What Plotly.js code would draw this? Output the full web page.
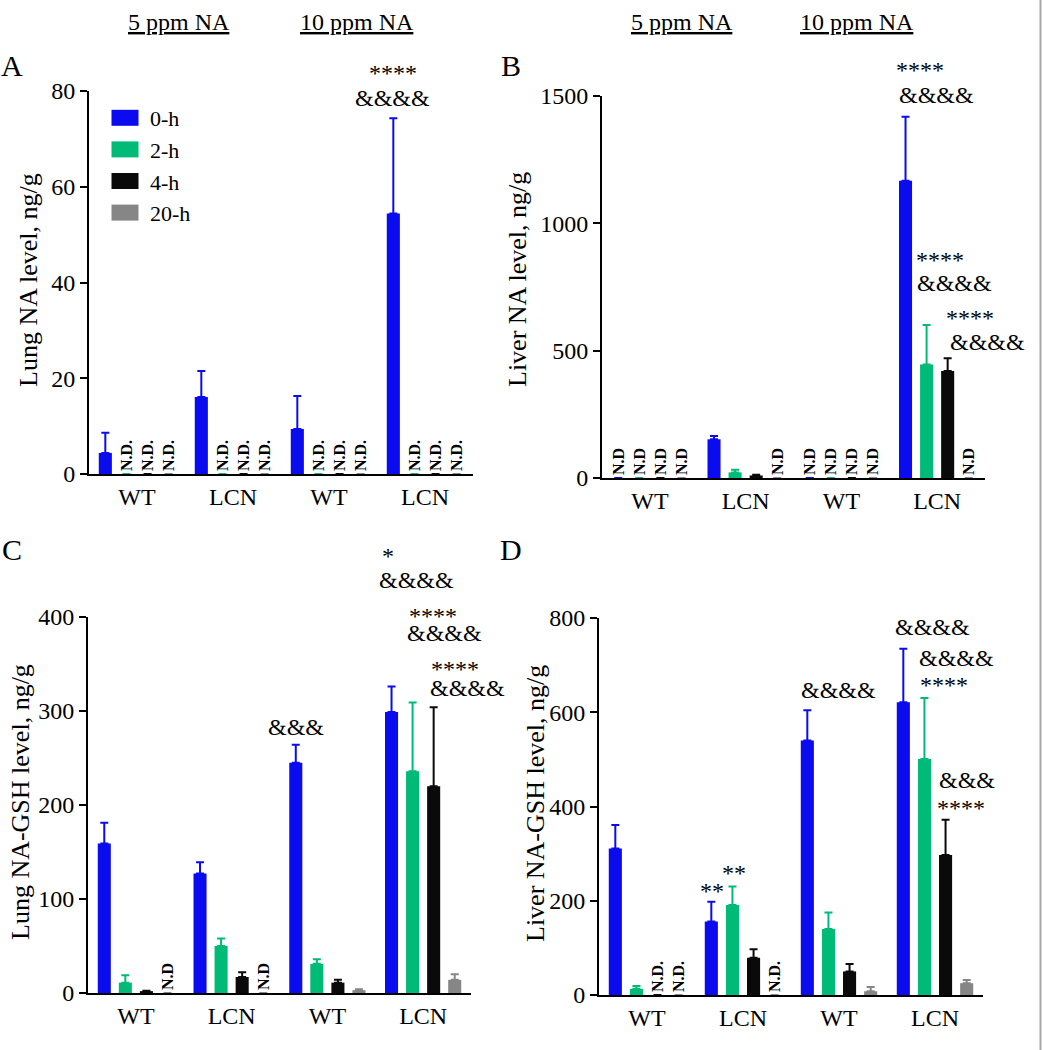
<!DOCTYPE html>
<html><head><meta charset="utf-8">
<script src="https://cdn.plot.ly/plotly-3.0.1.min.js"></script>
<style>body{margin:0;background:#fff}#chart{width:1042px;height:1050px}</style>
</head><body><div id="chart"></div>
<script>
// ---------- data ----------
const groupPos = [0, 1, 2, 3];
const groupLabels = ['WT', 'LCN', 'WT', 'LCN'];
const seriesNames = ['0-h', '2-h', '4-h', '20-h'];
const seriesColors = ['#0b0bf0', '#00bb77', '#0a0a0a', '#868686'];

// null = N.D. (not detected)
// Panel A: Lung NA level, ng/g
const lungNA_0h = [4.4, 16.1, 9.4, 54.4];
const lungNA_0h_err = [4.2, 5.4, 6.9, 19.9];
const lungNA_2h = [null, null, null, null];
const lungNA_2h_err = [null, null, null, null];
const lungNA_4h = [null, null, null, null];
const lungNA_4h_err = [null, null, null, null];
const lungNA_20h = [null, null, null, null];
const lungNA_20h_err = [null, null, null, null];

// Panel B: Liver NA level, ng/g
const liverNA_0h = [null, 152, null, 1167];
const liverNA_0h_err = [null, 13, null, 252];
const liverNA_2h = [null, 22, null, 446];
const liverNA_2h_err = [null, 10, null, 155];
const liverNA_4h = [null, 10, null, 420];
const liverNA_4h_err = [null, 3, null, 50];
const liverNA_20h = [null, null, null, null];
const liverNA_20h_err = [null, null, null, null];

// Panel C: Lung NA-GSH level, ng/g
const lungGSH_0h = [159, 127, 245, 299];
const lungGSH_0h_err = [22, 12, 19, 27];
const lungGSH_2h = [11, 50, 31, 236];
const lungGSH_2h_err = [8, 8, 5, 73];
const lungGSH_4h = [2, 17, 11, 220];
const lungGSH_4h_err = [0.5, 5, 3, 84];
const lungGSH_20h = [null, null, 3, 14];
const lungGSH_20h_err = [null, null, 1, 6];

// Panel D: Liver NA-GSH level, ng/g
const liverGSH_0h = [311, 156, 540, 621];
const liverGSH_0h_err = [50, 42, 64, 114];
const liverGSH_2h = [13, 191, 140, 501];
const liverGSH_2h_err = [6, 39, 35, 129];
const liverGSH_4h = [null, 79, 50, 297];
const liverGSH_4h_err = [null, 18, 16, 75];
const liverGSH_20h = [null, null, 8, 25];
const liverGSH_20h_err = [null, null, 9, 7];

const yTicksA = [0, 20, 40, 60, 80];
const yTicksB = [0, 500, 1000, 1500];
const yTicksC = [0, 100, 200, 300, 400];
const yTicksD = [0, 200, 400, 600, 800];

// ---------- layout helpers ----------
const W = 1042, H = 1050;
const FONT = 'Liberation Serif, "Times New Roman", serif';
const px = v => v / W;
const py = v => 1 - v / H;

const panels = [
  {ax: '', series: [[lungNA_0h, lungNA_0h_err], [lungNA_2h, lungNA_2h_err], [lungNA_4h, lungNA_4h_err], [lungNA_20h, lungNA_20h_err]], nd: 'N.D.'},
  {ax: '2', series: [[liverNA_0h, liverNA_0h_err], [liverNA_2h, liverNA_2h_err], [liverNA_4h, liverNA_4h_err], [liverNA_20h, liverNA_20h_err]], nd: 'N.D'},
  {ax: '3', series: [[lungGSH_0h, lungGSH_0h_err], [lungGSH_2h, lungGSH_2h_err], [lungGSH_4h, lungGSH_4h_err], [lungGSH_20h, lungGSH_20h_err]], nd: 'N.D'},
  {ax: '4', series: [[liverGSH_0h, liverGSH_0h_err], [liverGSH_2h, liverGSH_2h_err], [liverGSH_4h, liverGSH_4h_err], [liverGSH_20h, liverGSH_20h_err]], nd: 'N.D.'}
];

const traces = [];
panels.forEach((p, pi) => {
  p.series.forEach(([vals, errs], si) => {
    traces.push({
      type: 'bar',
      name: seriesNames[si],
      legendgroup: seriesNames[si],
      showlegend: pi === 0,
      x: groupPos,
      y: vals.map(v => v === null ? 0 : v),
      text: vals.map(v => v === null ? '<b>' + p.nd + '</b>' : ''),
      textposition: 'outside',
      textangle: -90,
      constraintext: 'none',
      cliponaxis: false,
      textfont: {family: FONT, size: 16, color: '#000'},
      marker: {color: seriesColors[si], line: {width: 0}},
      error_y: {type: 'data', symmetric: false,
        array: errs.map(e => e === null ? NaN : e),
        arrayminus: errs.map(() => 0),
        color: seriesColors[si], thickness: 2, width: 4},
      xaxis: 'x' + p.ax, yaxis: 'y' + p.ax,
      hoverinfo: 'skip'
    });
  });
});

function xax(domain, anchor) {
  return {domain, anchor, range: [-0.5, 3.5], tickvals: groupPos, ticktext: groupLabels,
    showline: true, linecolor: '#000', linewidth: 2, ticks: '', showgrid: false, zeroline: false,
    ticklabelstandoff: 0, tickfont: {family: FONT, size: 24, color: '#000'}, fixedrange: true};
}
function yax(domain, anchor, range, ticks) {
  return {domain, anchor, range, tickvals: ticks, ticktext: ticks.map(String),
    showline: true, linecolor: '#000', linewidth: 2, ticks: 'outside', ticklen: 7, tickwidth: 2, tickcolor: '#000',
    showgrid: false, zeroline: false, tickfont: {family: FONT, size: 24, color: '#000'}, fixedrange: true};
}

const ann = [];
function txt(t, x, y, size, extra) {
  ann.push(Object.assign({text: t, x: px(x), y: py(y), xref: 'paper', yref: 'paper',
    xanchor: 'center', yanchor: 'middle', showarrow: false,
    font: {family: FONT, size: size, color: '#000'}}, extra || {}));
}
// headers
txt('<u>5 ppm NA</u>', 179, 22, 24);
txt('<u>10 ppm NA</u>', 357, 22, 24);
txt('<u>5 ppm NA</u>', 682, 22, 24);
txt('<u>10 ppm NA</u>', 857, 22, 24);
// panel letters
txt('A', 12, 66, 30);
txt('B', 511, 66, 30);
txt('C', 12, 549, 30);
txt('D', 511, 549, 30);
// y titles
txt('Lung NA level, ng/g', 29, 280, 26, {textangle: -90});
txt('Liver NA level, ng/g', 518, 280, 26, {textangle: -90});
txt('Lung NA-GSH level, ng/g', 20, 802, 26, {textangle: -90});
txt('Liver NA-GSH level, ng/g', 535, 804, 26, {textangle: -90});
// significance marks
const A4 = 3; // asterisk glyphs sit high in the line box
txt('****', 393, 70 + A4, 24); txt('&amp;&amp;&amp;&amp;', 392, 98, 24);
txt('****', 920, 67 + A4, 24); txt('&amp;&amp;&amp;&amp;', 936, 95, 24);
txt('****', 940, 257 + A4, 24); txt('&amp;&amp;&amp;&amp;', 954, 283, 24);
txt('****', 970, 315 + A4, 24); txt('&amp;&amp;&amp;&amp;', 987, 342, 24);
txt('&amp;&amp;&amp;', 296, 727, 24);
txt('*', 388, 553 + A4, 24); txt('&amp;&amp;&amp;&amp;', 416, 580, 24);
txt('****', 433, 613 + A4, 24); txt('&amp;&amp;&amp;&amp;', 444, 633, 24);
txt('****', 455, 666 + A4, 24); txt('&amp;&amp;&amp;&amp;', 467, 688, 24);
txt('&amp;&amp;&amp;&amp;', 838, 690, 24);
txt('**', 712, 888 + A4, 24); txt('**', 734, 870 + A4, 24);
txt('&amp;&amp;&amp;&amp;', 932, 627, 24);
txt('&amp;&amp;&amp;&amp;', 956, 658, 24); txt('****', 944, 682 + A4, 24);
txt('&amp;&amp;&amp;', 967, 780, 24); txt('****', 961, 805 + A4, 24);

const layout = {
  width: W, height: H, margin: {l: 0, r: 0, t: 0, b: 0},
  paper_bgcolor: '#fff', plot_bgcolor: 'rgba(0,0,0,0)',
  barmode: 'group', bargap: 0.12, bargroupgap: 0.38,
  font: {family: FONT, color: '#000'},
  xaxis: xax([px(89), px(473)], 'y'),
  yaxis: yax([py(474), py(91)], 'x', [0, 80], yTicksA),
  xaxis2: xax([px(602), px(985)], 'y2'),
  yaxis2: yax([py(478), py(96)], 'x2', [0, 1500], yTicksB),
  xaxis3: xax([px(88), px(471)], 'y3'),
  yaxis3: yax([py(993), py(617)], 'x3', [0, 400], yTicksC),
  xaxis4: xax([px(599), px(983)], 'y4'),
  yaxis4: yax([py(995), py(618)], 'x4', [0, 800], yTicksD),
  showlegend: true,
  legend: {x: px(100), y: py(97), xanchor: 'left', yanchor: 'top', bgcolor: 'rgba(0,0,0,0)',
    itemwidth: 40, font: {family: FONT, size: 22, color: '#000'}, traceorder: 'normal'},
  annotations: ann,
  shapes: [{type: 'line', xref: 'paper', yref: 'paper', x0: px(1040.5), x1: px(1040.5), y0: 0, y1: 1,
    line: {color: '#a8a8a8', width: 2}}]
};

Plotly.newPlot('chart', traces, layout, {staticPlot: true, displayModeBar: false}).then(() => {
  // enlarge legend swatches to the wide rectangles of the original figure
  document.querySelectorAll('#chart .legendpoints path').forEach(p => {
    p.setAttribute('d', 'M13.5,8H-13.5V-8H13.5Z');
  });
});
</script>
</body></html>
